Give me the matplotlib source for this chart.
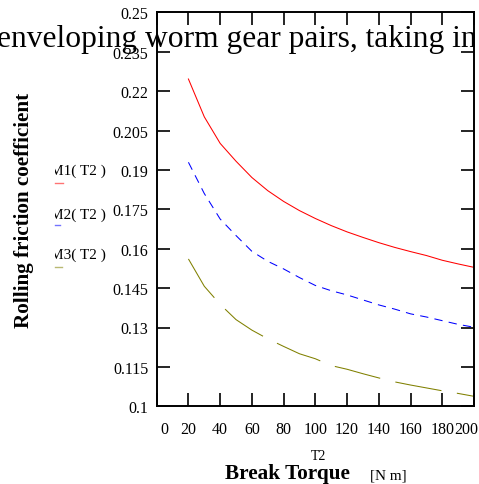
import matplotlib
matplotlib.use("Agg")
import matplotlib.pyplot as plt
import matplotlib.transforms as mtransforms
from matplotlib.lines import Line2D

plt.rcParams['font.family'] = ['Liberation Serif', 'DejaVu Serif']

# data
torque = [20, 30, 40, 50, 60, 70, 80, 90, 100, 110, 120, 130, 140, 150, 160, 170, 180, 190, 200]
mu1 = [0.2246, 0.2102, 0.2001, 0.1933, 0.1871, 0.1821, 0.1780, 0.1745, 0.1715, 0.1688,
       0.1664, 0.1643, 0.1623, 0.1605, 0.1589, 0.1574, 0.1556, 0.1542, 0.1529]
mu2 = [0.1929, 0.1810, 0.1713, 0.1650, 0.1590, 0.1552, 0.1523, 0.1490, 0.1460, 0.1440,
       0.1424, 0.1405, 0.1386, 0.1370, 0.1352, 0.1340, 0.1326, 0.1312, 0.1301]
mu3 = [0.1561, 0.1457, 0.1388, 0.1330, 0.1290, 0.1257, 0.1228, 0.1200, 0.1181, 0.1155,
       0.1141, 0.1124, 0.1108, 0.1093, 0.1081, 0.1070, 0.1059, 0.1049, 0.1038]
series_labels = ['M1( T2 )', 'M2( T2 )', 'M3( T2 )']
colors = ['#ff0000', '#0000ff', '#808000']
x_ticks = list(range(0, 201, 20))
y_ticks = [0.1, 0.115, 0.13, 0.145, 0.16, 0.175, 0.19, 0.205, 0.22, 0.235, 0.25]
y_ticklabels = ['0.1', '0.115', '0.13', '0.145', '0.16', '0.175', '0.19', '0.205', '0.22', '0.235', '0.25']

W, H = 479, 485
fig = plt.figure(figsize=(W / 100, H / 100), dpi=100)
ax = fig.add_axes([156.7 / W, 1 - 407.3 / H, (474 - 156.7) / W, (407.3 - 13.3) / H])

lw = 0.75
ax.plot(torque, mu1, color=colors[0], lw=lw)
ax.plot(torque, mu2, color=colors[1], lw=lw, dashes=(8, 6))
ax.plot(torque, mu3, color=colors[2], lw=lw, dashes=(45, 15))

ax.set_xlim(0, 200)
ax.set_ylim(0.1, 0.25)
ax.set_xticks(x_ticks)
ax.set_yticks(y_ticks)
ax.set_yticklabels(y_ticklabels)
ax.tick_params(direction='in', length=9.5, width=1.2, top=True, right=True,
               labelsize=11.5, color='black')
ax.tick_params(axis='x', pad=10.5)
ax.tick_params(axis='y', pad=6)
for s in ax.spines.values():
    s.set_linewidth(1.4)

# Mathcad keeps the end labels inside the frame
xl = ax.get_xticklabels()
xl[0].set_transform(xl[0].get_transform() + mtransforms.ScaledTranslation(8 / 100, 0, fig.dpi_scale_trans))
xl[-1].set_transform(xl[-1].get_transform() + mtransforms.ScaledTranslation(-7.5 / 100, 0, fig.dpi_scale_trans))

# clipped title
clip_title = mtransforms.TransformedBbox(mtransforms.Bbox([[0, 0], [474.5 / W, 1]]), fig.transFigure)
t = fig.text(-3 / W, 1 - 46.7 / H, 'enveloping worm gear pairs, taking in', fontsize=22.7,
             va='baseline', ha='left')
t.set_clip_box(clip_title)
t.set_clip_on(True)

# clipped trace labels
clip_lab = mtransforms.TransformedBbox(mtransforms.Bbox([[54.5 / W, 0], [1, 1]]), fig.transFigure)
lab_y = [171.7, 215, 255]
line_y = [183.8, 226.3, 268.3]
line_x2 = [62.5, 60, 62]
for lab, c, ly, lny, x2 in zip(series_labels, colors, lab_y, line_y, line_x2):
    tt = fig.text(105.5 / W, 1 - ly / H, lab, fontsize=11, ha='right', va='center')
    tt.set_clip_box(clip_lab)
    tt.set_clip_on(True)
    fig.add_artist(Line2D([54.5 / W, x2 / W], [1 - lny / H, 1 - lny / H], color=c, lw=1.0,
                          alpha=0.55, transform=fig.transFigure))

fig.text(24 / W, 1 - 210.8 / H, 'Rolling friction coefficient', rotation=90, fontsize=15.2,
         fontweight='bold', ha='center', va='center')
fig.text(318.7 / W, 1 - 460.5 / H, 'T2', fontsize=10, ha='center', va='baseline')
fig.text(287.5 / W, 1 - 479.5 / H, 'Break Torque', fontsize=15.3, fontweight='bold',
         ha='center', va='baseline')
fig.text(388.3 / W, 1 - 479.3 / H, '[N m]', fontsize=10.9, ha='center', va='baseline')

fig.savefig('out.png', dpi=100)
